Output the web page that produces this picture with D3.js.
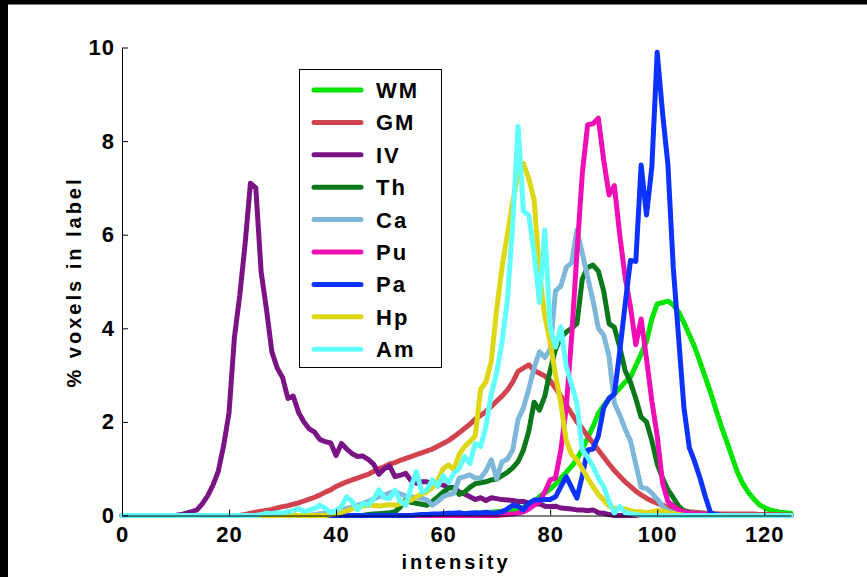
<!DOCTYPE html>
<html>
<head>
<meta charset="utf-8">
<script src="https://cdn.jsdelivr.net/npm/d3@7"></script>
<style>
  body { margin: 0; background: #fff; }
  svg { display: block; }
  text { font-family: "Liberation Sans", Arial, sans-serif; font-weight: bold; fill: #000; }
</style>
</head>
<body>
<svg width="867" height="577"></svg>
<script>
// ---------------------------------------------------------------
// data: % voxels per intensity bin, each series starts at `start`
// ---------------------------------------------------------------
var labels = ["WM", "GM", "IV", "Th", "Ca", "Pu", "Pa", "Hp", "Am"];
var colors = ["#00e400", "#d0434f", "#7a1485", "#08781a", "#7fb7da",
              "#ef0fb4", "#0b32ff", "#ddd714", "#62fdfd"];

var xTicks = [0, 20, 40, 60, 80, 100, 120];
var yTicks = [0, 2, 4, 6, 8, 10];

var wmStart = 60;
var wmVals = [0.02, 0.03, 0.03, 0.04, 0.04, 0.05, 0.05, 0.06, 0.06, 0.07,
  0.08, 0.09, 0.1, 0.11, 0.13, 0.18, 0.24, 0.3, 0.4, 0.48,
  0.56, 0.67, 0.8, 0.92, 1.05, 1.2, 1.42, 1.65, 1.9, 2.18,
  2.35, 2.5, 2.6, 2.72, 2.85, 2.95, 3.2, 3.45, 3.72, 4.2,
  4.52, 4.55, 4.58, 4.5, 4.35, 4.12, 3.86, 3.6, 3.28, 2.95,
  2.62, 2.25, 1.9, 1.58, 1.25, 0.92, 0.68, 0.5, 0.36, 0.24,
  0.17, 0.12, 0.09, 0.07, 0.06, 0.05];

var gmStart = 22;
var gmVals = [0, 0.02, 0.05, 0.07, 0.09, 0.11, 0.13, 0.16, 0.19, 0.21,
  0.24, 0.27, 0.31, 0.35, 0.39, 0.44, 0.5, 0.55, 0.62, 0.67,
  0.72, 0.76, 0.8, 0.84, 0.88, 0.94, 1.0, 1.04, 1.1, 1.13,
  1.18, 1.22, 1.26, 1.3, 1.34, 1.38, 1.42, 1.48, 1.54, 1.6,
  1.68, 1.77, 1.86, 1.95, 2.06, 2.14, 2.22, 2.33, 2.44, 2.55,
  2.68, 2.85, 3.08, 3.15, 3.22, 3.1, 3.04, 2.98, 2.88, 2.72,
  2.55, 2.36, 2.18, 2.0, 1.86, 1.7, 1.55, 1.4, 1.25, 1.1,
  0.96, 0.84, 0.72, 0.62, 0.52, 0.44, 0.37, 0.31, 0.26, 0.22,
  0.18, 0.15, 0.12, 0.1, 0.08, 0.07, 0.06, 0.05, 0.05, 0.04,
  0.03, 0.03, 0.03, 0.03, 0.03, 0.03, 0.03, 0.02, 0.02, 0.02,
  0.02, 0.01, 0.01, 0.01];

var ivStart = 10;
var ivVals = [0, 0.02, 0.05, 0.08, 0.12, 0.25, 0.42, 0.65, 0.95, 1.5,
  2.2, 3.8, 4.7, 5.8, 7.1, 7.0, 5.2, 4.4, 3.5, 3.15,
  2.95, 2.5, 2.55, 2.2, 2.0, 1.85, 1.78, 1.62, 1.58, 1.55,
  1.28, 1.54, 1.42, 1.32, 1.26, 1.27, 1.2, 1.1, 0.88, 1.0,
  1.06, 0.83, 0.86, 0.9, 0.75, 0.69, 0.72, 0.72, 0.68, 0.67,
  0.65, 0.6, 0.6, 0.5, 0.46, 0.4, 0.34, 0.38, 0.32, 0.38,
  0.36, 0.34, 0.33, 0.32, 0.3, 0.3, 0.27, 0.24, 0.25, 0.2,
  0.19, 0.2, 0.16, 0.15, 0.14, 0.12, 0.12, 0.1, 0.12, 0.06,
  0.05, 0.02, 0];

var thStart = 45;
var thVals = [0, 0.02, 0.03, 0.04, 0.05, 0.06, 0.08, 0.18, 0.33, 0.28,
  0.26, 0.24, 0.22, 0.3, 0.4, 0.5, 0.58, 0.6, 0.45, 0.5,
  0.6, 0.68, 0.7, 0.72, 0.76, 0.78, 0.85, 0.92, 1.02, 1.15,
  1.4, 1.8, 2.42, 2.25, 2.55, 3.1, 3.55, 3.8, 3.92, 4.0,
  4.1, 5.05, 5.3, 5.35, 5.22, 4.8, 4.1, 4.02, 3.6, 3.1,
  2.85, 2.5, 2.1, 2.0, 1.6, 1.1, 0.8, 0.55, 0.38, 0.2,
  0.1, 0.06, 0.04, 0.03, 0.02, 0.01, 0];

var caStart = 35;
var caVals = [0, 0.02, 0.04, 0.05, 0.07, 0.1, 0.12, 0.15, 0.18, 0.22,
  0.26, 0.3, 0.35, 0.4, 0.44, 0.48, 0.51, 0.46, 0.42, 0.4,
  0.38, 0.37, 0.33, 0.22, 0.3, 0.4, 0.45, 0.47, 0.8, 0.83,
  0.87, 0.8, 0.8, 0.95, 1.19, 0.78, 1.15, 1.2, 1.4, 2.05,
  2.3, 2.7, 3.15, 3.5, 3.38, 3.55, 4.8, 4.9, 5.3, 5.4,
  6.1, 5.6, 5.1, 4.6, 4.0, 3.86, 3.4, 2.4, 2.15, 1.85,
  1.6, 1.1, 0.6, 0.58, 0.48, 0.35, 0.2, 0.1, 0.06, 0.04,
  0.02, 0];

var puStart = 70;
var puVals = [0, 0.01, 0.02, 0.03, 0.05, 0.08, 0.14, 0.22, 0.3, 0.5,
  0.76, 0.8, 1.4, 2.3, 3.8, 5.6, 7.3, 8.35, 8.37, 8.49,
  7.6, 6.85, 7.05, 6.0, 5.1, 4.46, 3.65, 4.2, 3.35, 2.45,
  1.7, 0.7, 0.3, 0.2, 0.12, 0.08, 0.05, 0.04, 0.03, 0.02,
  0.01, 0];

var paStart = 55;
var paVals = [0.01, 0.02, 0.02, 0.03, 0.03, 0.04, 0.05, 0.05, 0.06, 0.04,
  0.05, 0.06, 0.05, 0.07, 0.05, 0.06, 0.08, 0.14, 0.22, 0.2,
  0.12, 0.26, 0.33, 0.33, 0.34, 0.34, 0.4, 0.62, 0.83, 0.6,
  0.37, 0.85, 1.4, 1.42, 1.7, 2.3, 2.5, 2.6, 3.5, 4.5,
  5.45, 5.43, 7.49, 6.42, 7.45, 9.9, 8.6, 7.5, 5.3, 3.8,
  2.3, 1.45, 1.15, 0.8, 0.4, 0.05, 0.02, 0];

var hpStart = 38;
var hpVals = [0, 0.02, 0.04, 0.07, 0.1, 0.14, 0.18, 0.2, 0.22, 0.22,
  0.2, 0.22, 0.23, 0.22, 0.25, 0.3, 0.33, 0.4, 0.46, 0.51,
  0.6, 0.75, 1.0, 1.08, 0.98, 1.3, 1.47, 1.58, 1.7, 2.7,
  2.85, 3.3, 4.4, 5.3, 6.0, 6.7, 7.3, 7.52, 7.2, 6.75,
  5.2, 4.25, 3.7, 3.0, 2.4, 1.6, 1.3, 1.19, 1.0, 0.8,
  0.62, 0.45, 0.33, 0.2, 0.15, 0.15, 0.14, 0.1, 0.08, 0.08,
  0.06, 0.08, 0.1, 0.1, 0.06, 0.04, 0.02, 0];

var amStart = 25;
var amVals = [0, 0.02, 0.05, 0.04, 0.06, 0.05, 0.08, 0.1, 0.15, 0.08,
  0.12, 0.15, 0.22, 0.15, 0.06, 0.1, 0.2, 0.4, 0.3, 0.12,
  0.26, 0.22, 0.35, 0.55, 0.38, 0.36, 0.54, 0.3, 0.22, 0.6,
  0.94, 0.5, 0.55, 0.76, 0.62, 0.85, 0.7, 0.9, 1.0, 1.26,
  1.11, 1.54, 1.47, 1.9, 2.6, 3.04, 3.7, 4.6, 6.2, 8.31,
  6.5, 6.42, 5.6, 4.55, 6.1, 4.03, 3.6, 4.03, 3.18, 2.8,
  2.4, 1.4, 1.25, 1.05, 0.8, 0.62, 0.3, 0.05, 0.19, 0.06,
  0.04, 0.02, 0];

var starts = [wmStart, gmStart, ivStart, thStart, caStart, puStart, paStart, hpStart, amStart];
var values = [wmVals, gmVals, ivVals, thVals, caVals, puVals, paVals, hpVals, amVals];
var intensity = d3.range(0, 126);

// full series over 0..125, zero outside the listed bins
var series = labels.map(function (name, i) {
  return {
    name: name,
    color: colors[i],
    pts: intensity.map(function (x) {
      var k = x - starts[i];
      var v = (k >= 0 && k < values[i].length) ? values[i][k] : 0;
      return [x, v];
    })
  };
});

// ---------------------------------------------------------------
// setup
// ---------------------------------------------------------------
var svg = d3.select("svg");

// dark strips along the top and left edge of the original frame
svg.append("rect").attr("x", 0).attr("y", 0).attr("width", 867).attr("height", 4.5).attr("fill", "#000");
svg.append("rect").attr("x", 0).attr("y", 0).attr("width", 8).attr("height", 577).attr("fill", "#000");

var xScale = d3.scaleLinear().domain([0, 125]).range([122, 791]);
var yScale = d3.scaleLinear().domain([0, 10]).range([515.5, 47.5]);

var xAxis = d3.axisBottom(xScale).tickValues(xTicks).tickSizeInner(-6).tickSizeOuter(0).tickPadding(11);
var yAxis = d3.axisLeft(yScale).tickValues(yTicks).tickSizeInner(-6).tickSizeOuter(0).tickPadding(7);

var line = d3.line()
  .x(function (d) { return xScale(d[0]); })
  .y(function (d) { return yScale(d[1]); });

// curves, legend order = drawing order
svg.append("g").attr("class", "curves")
  .selectAll("path")
  .data(series)
  .join("path")
  .attr("d", function (d) { return line(d.pts); })
  .attr("fill", "none")
  .attr("stroke", function (d) { return d.color; })
  .attr("stroke-width", 5)
  .attr("stroke-linejoin", "round")
  .attr("stroke-linecap", "round");

var gx = svg.append("g")
  .attr("transform", "translate(0," + yScale(0) + ")")
  .call(xAxis);
var gy = svg.append("g")
  .attr("transform", "translate(" + xScale(0) + ",0)")
  .call(yAxis);

[gx, gy].forEach(function (g) {
  g.selectAll("path, line").attr("stroke", "#000").attr("stroke-width", 1);
  g.selectAll("text")
    .attr("fill", "#000")
    .style("font-family", '"Liberation Sans", Arial, sans-serif')
    .style("font-weight", "bold")
    .style("font-size", "22px")
    .style("letter-spacing", "1px");
});

// axis titles
svg.append("text")
  .attr("x", 456).attr("y", 569)
  .attr("text-anchor", "middle")
  .style("font-size", "20px")
  .style("letter-spacing", "3px")
  .text("intensity");

svg.append("text")
  .attr("transform", "translate(81,282) rotate(-90)")
  .attr("text-anchor", "middle")
  .style("font-size", "20px")
  .style("letter-spacing", "3px")
  .text("% voxels in label");

// ---------------------------------------------------------------
// legend
// ---------------------------------------------------------------
var legend = svg.append("g").attr("class", "legend");
legend.append("rect")
  .attr("x", 299.5).attr("y", 69.5)
  .attr("width", 142).attr("height", 298)
  .attr("fill", "#fff")
  .attr("stroke", "#000")
  .attr("stroke-width", 1);

var rows = legend.selectAll("g.row")
  .data(series)
  .join("g")
  .attr("class", "row")
  .attr("transform", function (d, i) { return "translate(0," + (90 + i * 32.4) + ")"; });

rows.append("line")
  .attr("x1", 314).attr("x2", 361)
  .attr("y1", 0).attr("y2", 0)
  .attr("stroke", function (d) { return d.color; })
  .attr("stroke-width", 5)
  .attr("stroke-linecap", "round");

rows.append("text")
  .attr("x", 376).attr("y", 0)
  .attr("dy", "0.36em")
  .style("font-size", "22px")
  .style("letter-spacing", "2px")
  .text(function (d) { return d.name; });
</script>
</body>
</html>
